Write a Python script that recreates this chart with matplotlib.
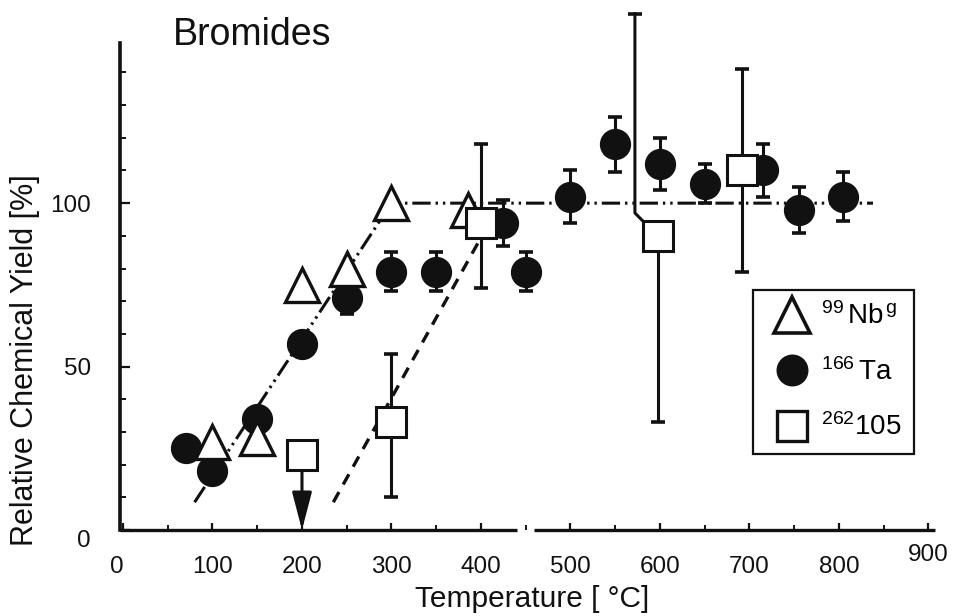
import matplotlib
matplotlib.use("Agg")
import matplotlib.pyplot as plt
import matplotlib.transforms as mtransforms
from matplotlib.lines import Line2D
from matplotlib.ticker import MultipleLocator, FixedLocator

plt.rcParams["font.family"] = ["Liberation Sans", "DejaVu Sans"]
plt.rcParams["mathtext.fontset"] = "custom"
plt.rcParams["mathtext.rm"] = "Liberation Sans"
plt.rcParams["mathtext.it"] = "Liberation Sans:italic"

# ── data ─────────────────────────────────────────────────────────────────────
# 99Nb^g  (open triangles)
nb_T = [100, 150, 200, 250, 300, 385]
nb_y = [27, 28, 75, 80, 100, 98]

# 166Ta  (filled circles) with symmetric errors
ta_T   = [70, 100, 150, 200, 250, 300, 350, 425, 450, 500, 550, 600, 650, 715, 755, 805]
ta_y   = [25, 18, 34, 57, 71, 79, 79, 94, 79, 102, 118, 112, 106, 110, 98, 102]
ta_err = [0, 0, 0, 0, 5, 6, 6, 7, 6, 8, 8.5, 8, 6, 8, 7, 7.5]

# 262-105  (open squares), lower/upper error limits
db_T     = [200, 300, 400, 598, 692]
db_y     = [23, 33, 94, 90, 110]
db_lo    = [0, 10, 74, 33, 79]
db_hi    = [23, 54, 118, 158, 141]
db_limit = [True, False, False, False, False]   # upper limit -> arrow
db_bar_x = [200, 300, 400, 572, 692]            # where the upper bar is drawn

# guide lines
nb_fit_T = [80, 300, 838]
nb_fit_y = [8.5, 100, 100]
db_fit_T = [235, 397]
db_fit_y = [8.5, 88]

x_break = (440, 459)

# ── figure ───────────────────────────────────────────────────────────────────
fig = plt.figure(figsize=(9.55, 6.16), dpi=100)
fig.patch.set_facecolor("white")
ax = fig.add_axes([0.12565, 0.13961, 0.85341, 0.79058])
ax.set_xlim(-3.35, 907.3)
ax.set_ylim(0, 149)

INK = "#111111"

# guide lines
ax.plot(nb_fit_T, nb_fit_y, color=INK, lw=2.2,
        ls=(0, (6, 1.6, 0.8, 1.6, 0.8, 1.6)), zorder=1)
ax.plot(db_fit_T, db_fit_y, color=INK, lw=2.4, ls=(0, (3.5, 2.6)), zorder=1)

# Ta circles
ax.errorbar(ta_T, ta_y, yerr=ta_err, fmt="none", ecolor=INK, elinewidth=2.2,
            capsize=4.8, capthick=2.6, zorder=2)
ax.plot(ta_T, ta_y, "o", ms=21.5, color=INK, mec=INK, zorder=3, clip_on=False)

# Nb triangles
ax.plot(nb_T, nb_y, "^", ms=24, mfc="white", mec=INK, mew=2.4, zorder=4,
        clip_on=False)

# 105 squares with error bars / limit arrow
for T, v, lo, hi, lim, bx in zip(db_T, db_y, db_lo, db_hi, db_limit, db_bar_x):
    if lim:
        ax.annotate("", xy=(T, lo), xytext=(T, v),
                    arrowprops=dict(arrowstyle="-|>,head_length=1.15,head_width=0.3",
                                    mutation_scale=20, color=INK, lw=2.2,
                                    shrinkA=0, shrinkB=0),
                    zorder=4)
        continue
    ax.errorbar([T], [v], yerr=[[v - lo], [0]], fmt="none", ecolor=INK,
                elinewidth=2.2, capsize=5, capthick=2.6, zorder=4)
    if bx == T:
        ax.errorbar([T], [v], yerr=[[0], [hi - v]], fmt="none", ecolor=INK,
                    elinewidth=2.2, capsize=5, capthick=2.6, zorder=4)
    else:
        # bent upper bar drawn beside the square
        ax.plot([T - 17, bx, bx], [v + 4.5, v + 7, hi], color=INK, lw=2.2,
                zorder=4, clip_on=False)
        ax.plot([bx], [hi], marker="_", ms=10, mew=2.6, color=INK, zorder=4,
                clip_on=False)
ax.plot(db_T, db_y, "s", ms=21, mfc="white", mec=INK, mew=2.2, zorder=5)

# ── axes styling ─────────────────────────────────────────────────────────────
for s in ("top", "right", "bottom"):
    ax.spines[s].set_visible(False)
ax.spines["left"].set_linewidth(2.6)
ax.spines["left"].set_color(INK)

# broken x axis line
x0, x1 = ax.get_xlim()
for a, b in ((x0, x_break[0]), (x_break[1], x1)):
    ax.plot([a, b], [0, 0], color=INK, lw=2.4, clip_on=False, zorder=6,
            solid_capstyle="butt")

ax.xaxis.set_major_locator(FixedLocator(range(0, 1000, 100)))
ax.xaxis.set_minor_locator(MultipleLocator(50))
ax.yaxis.set_major_locator(FixedLocator([0, 50, 100]))
ax.yaxis.set_minor_locator(FixedLocator(range(10, 150, 10)))
ax.tick_params(axis="both", which="both", direction="in", color=INK,
               labelcolor=INK)
ax.tick_params(axis="x", which="major", length=5, width=1.6, labelsize=17.5, pad=19)
ax.tick_params(axis="x", which="minor", length=3.5, width=1.4)
ax.tick_params(axis="y", which="major", length=7, width=1.6, labelsize=17.5, pad=21)
ax.tick_params(axis="y", which="minor", length=4, width=1.4)

# small label offsets as in the original print
fig.canvas.draw()
for lab in ax.get_xticklabels():
    if lab.get_text() == "900":
        lab.set_transform(lab.get_transform() +
                          mtransforms.ScaledTranslation(0, 12 / 100, fig.dpi_scale_trans))
    if lab.get_text() == "0":
        lab.set_transform(lab.get_transform() +
                          mtransforms.ScaledTranslation(-6 / 100, 0, fig.dpi_scale_trans))
for lab in ax.get_yticklabels():
    if lab.get_text() == "0":
        lab.set_transform(lab.get_transform() +
                          mtransforms.ScaledTranslation(0, -8 / 100, fig.dpi_scale_trans))

# texts
fig.text(252 / 955, 1 - 45 / 616, "Bromides", fontsize=27, ha="center",
         va="baseline", color=INK)
fig.text(532 / 955, 1 - 607 / 616, "Temperature [ \u00b0C]", fontsize=21.5,
         ha="center", va="baseline", color=INK)
fig.text(25 / 955, 1 - 360 / 616, "Relative Chemical Yield [%]", fontsize=22,
         rotation=90, ha="center", va="center", color=INK)

# legend
handles = [
    Line2D([], [], ls="none", marker="^", ms=26, mfc="white", mec=INK, mew=2.6),
    Line2D([], [], ls="none", marker="o", ms=22, color=INK),
    Line2D([], [], ls="none", marker="s", ms=22, mfc="white", mec=INK, mew=2.4),
]
labels = [r"$^{99}\,$Nb$^{\,\mathrm{g}}$", r"$^{166}\,$Ta", r"$^{262}$105"]
leg = ax.legend(handles, labels, loc="upper left",
                bbox_to_anchor=(753 / 955, 1 - 290 / 616),
                bbox_transform=fig.transFigure, fontsize=20, frameon=True,
                fancybox=False, edgecolor=INK, framealpha=1, borderpad=0.45,
                handlelength=1.9, handletextpad=0.1, labelspacing=1.0,
                borderaxespad=0)
leg.get_frame().set_linewidth(1.6)

fig.savefig("out.png", dpi=100, facecolor="white")
